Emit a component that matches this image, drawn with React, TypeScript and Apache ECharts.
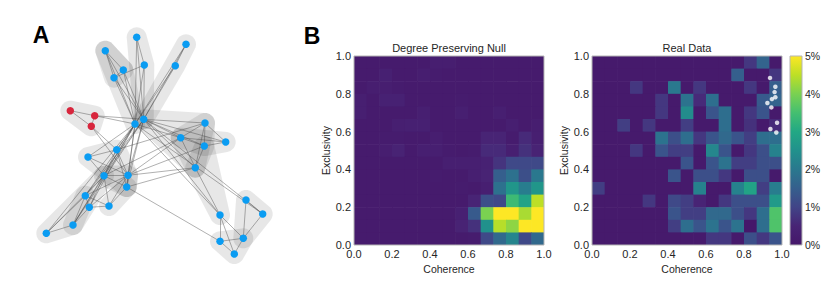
import React, { useEffect, useRef } from 'react';
import * as echarts from 'echarts';

// ---------- Panel A: network ----------
// node coordinates (panel pixel space), node 1..33 stored at index 0..32
const NODE_X = [136.7, 186, 105.3, 144.3, 175.3, 123.3, 114, 70.3, 94.7, 91.3, 143.7, 135, 205, 180.7, 204.3, 225.7, 116.7, 88, 195.3, 104, 128, 126.7, 85.3, 89.3, 109, 246, 262.7, 220, 73, 46.3, 220, 243.3, 234.3];
const NODE_Y = [37.3, 44.3, 50.7, 65, 65.7, 70, 77.7, 110.7, 115.7, 126.3, 119.3, 124, 123, 137.7, 146, 142, 149.7, 157, 167.7, 175.7, 175.3, 187, 195.7, 207.3, 206, 200, 214, 215, 225, 233.3, 241.3, 238.3, 254];
const NODE_GROUP = [0, 0, 0, 0, 0, 0, 0, 1, 1, 1, 0, 0, 0, 0, 0, 0, 0, 0, 0, 0, 0, 0, 0, 0, 0, 0, 0, 0, 0, 0, 0, 0, 0];
// edges (1-based node numbers)
const EDGES: [number, number][] = [
  [1, 4], [1, 11], [1, 12], [4, 11], [4, 12], [4, 7],
  [2, 5], [2, 11], [2, 12], [5, 11], [5, 12],
  [3, 6], [3, 7], [3, 11], [3, 12], [6, 7], [6, 11], [6, 12], [7, 11], [7, 12],
  [8, 9], [8, 10], [9, 10], [9, 11], [9, 12], [10, 17], [10, 21],
  [12, 17], [12, 18], [12, 20], [12, 21], [12, 22], [12, 23], [12, 24], [12, 29], [12, 30],
  [11, 20], [11, 21], [11, 23], [11, 29], [11, 22],
  [11, 13], [11, 14], [11, 15], [11, 16], [11, 19], [11, 28], [11, 27], [12, 27], [12, 28], [12, 14],
  [21, 14], [21, 19], [21, 15], [20, 14], [22, 19], [17, 13], [22, 31],
  [13, 14], [13, 15], [14, 15], [14, 19], [15, 19], [15, 16], [13, 16], [14, 16], [13, 19],
  [19, 28], [28, 31], [28, 33], [28, 32], [31, 32], [31, 33], [32, 33], [26, 27], [26, 32], [27, 32],
  [17, 18], [17, 20], [17, 21], [17, 22], [18, 20], [18, 21], [20, 21], [20, 22], [21, 22],
  [20, 25], [21, 25], [22, 25], [20, 23], [20, 24], [21, 23], [21, 24], [23, 24], [23, 25], [24, 25],
  [23, 29], [24, 29], [23, 30], [29, 30], [20, 29], [20, 30]
];
// community hulls (1-based node numbers)
const HULLS: number[][] = [
  [3, 6, 7], [3, 6, 12], [1, 4, 11], [2, 5, 11], [8, 9, 10],
  [11, 13, 19], [13, 14, 15, 19], [14, 15, 16], [15, 19, 28],
  [26, 27, 32], [31, 32, 33],
  [17, 18, 21, 22], [20, 21, 22], [22, 25], [20, 23, 29, 30], [23, 29]
];

// ---------- Panel B: heatmaps (rows top -> bottom, values in %) ----------
const BINS = 15;
const NULL_VALUES: number[][] = [
  [0.15, 0.15, 0.15, 0.15, 0.15, 0.15, 0.25, 0.25, 0.15, 0.15, 0.15, 0.15, 0.15, 0.15, 0.15],
  [0.15, 0.15, 0.35, 0.15, 0.15, 0.25, 0.2, 0.15, 0.15, 0.15, 0.15, 0.15, 0.15, 0.15, 0.15],
  [0.15, 0.25, 0.25, 0.2, 0.15, 0.15, 0.15, 0.15, 0.15, 0.15, 0.15, 0.15, 0.15, 0.15, 0.15],
  [0.3, 0.15, 0.4, 0.4, 0.15, 0.15, 0.15, 0.15, 0.2, 0.15, 0.15, 0.15, 0.15, 0.15, 0.15],
  [0.3, 0.15, 0.15, 0.15, 0.15, 0.3, 0.15, 0.15, 0.3, 0.15, 0.15, 0.3, 0.15, 0.15, 0.15],
  [0.15, 0.15, 0.15, 0.3, 0.35, 0.35, 0.15, 0.15, 0.15, 0.15, 0.15, 0.15, 0.3, 0.15, 0.25],
  [0.15, 0.15, 0.2, 0.2, 0.15, 0.15, 0.25, 0.15, 0.15, 0.15, 0.5, 0.5, 0.2, 0.6, 0.3],
  [0.15, 0.15, 0.25, 0.45, 0.15, 0.3, 0.3, 0.2, 0.15, 0.2, 0.6, 0.6, 0.3, 0.7, 0.45],
  [0.15, 0.15, 0.15, 0.15, 0.15, 0.15, 0.15, 0.3, 0.3, 0.3, 0.4, 0.75, 1.1, 1.1, 1.1],
  [0.15, 0.15, 0.15, 0.15, 0.15, 0.15, 0.2, 0.15, 0.15, 0.3, 0.45, 1.5, 1.85, 1.2, 2.0],
  [0.15, 0.15, 0.15, 0.15, 0.15, 0.15, 0.15, 0.15, 0.2, 0.15, 0.3, 1.85, 2.6, 2.1, 2.6],
  [0.15, 0.15, 0.15, 0.15, 0.15, 0.15, 0.15, 0.15, 0.15, 0.5, 1.2, 1.1, 3.4, 2.9, 4.5],
  [0.15, 0.15, 0.15, 0.15, 0.15, 0.15, 0.15, 0.15, 0.35, 1.4, 4.0, 5.0, 5.0, 4.35, 5.0],
  [0.15, 0.15, 0.15, 0.15, 0.15, 0.15, 0.15, 0.15, 0.45, 0.7, 2.5, 4.45, 4.15, 5.0, 5.0],
  [0.15, 0.15, 0.15, 0.15, 0.15, 0.15, 0.15, 0.15, 0.15, 0.2, 1.1, 1.7, 2.25, 1.1, 1.7]
];
const REAL_VALUES: number[][] = [
  [0.1, 0.1, 0.1, 0.1, 0.1, 0.1, 0.1, 0.1, 0.1, 0.1, 0.1, 0.1, 0.8, 1.6, 0.1],
  [0.1, 0.1, 0.1, 0.1, 0.1, 0.1, 0.1, 0.1, 0.1, 0.1, 0.1, 1.5, 0.1, 0.1, 0.8],
  [0.1, 0.1, 0.1, 0.8, 0.1, 0.1, 2.0, 0.1, 0.8, 0.1, 0.1, 0.1, 0.8, 0.1, 1.5],
  [0.1, 0.1, 0.1, 0.1, 0.1, 0.8, 0.1, 1.9, 0.6, 1.8, 0.1, 0.1, 0.1, 1.4, 1.6],
  [0.1, 0.1, 0.1, 0.1, 0.1, 0.8, 0.1, 2.4, 0.1, 1.3, 1.8, 0.1, 0.8, 1.3, 0.1],
  [0.1, 0.1, 0.9, 0.1, 0.8, 0.1, 0.1, 0.9, 0.1, 0.1, 1.8, 0.1, 0.7, 0.1, 0.6],
  [0.1, 0.1, 0.1, 0.1, 0.1, 1.9, 1.2, 1.8, 0.8, 1.3, 1.7, 1.3, 0.9, 1.8, 1.8],
  [0.1, 0.1, 0.1, 0.8, 0.1, 1.3, 0.9, 0.9, 0.1, 2.3, 1.3, 0.1, 0.8, 1.2, 2.2],
  [0.1, 0.1, 0.1, 0.1, 0.1, 0.1, 0.1, 1.3, 0.1, 1.3, 1.9, 0.9, 0.9, 1.2, 1.2],
  [0.1, 0.1, 0.1, 0.1, 0.1, 0.1, 1.3, 0.1, 1.2, 1.2, 0.8, 0.1, 1.2, 1.2, 0.1],
  [0.9, 0.1, 0.1, 0.1, 0.1, 0.1, 0.1, 0.1, 2.2, 0.1, 0.1, 2.2, 2.9, 0.9, 2.1],
  [0.1, 0.1, 0.1, 0.1, 0.8, 0.1, 1.1, 0.9, 0.5, 0.1, 0.8, 1.2, 1.2, 1.2, 2.7],
  [0.1, 0.1, 0.1, 0.1, 0.1, 0.1, 1.3, 0.9, 0.9, 1.7, 1.7, 1.2, 0.8, 1.8, 3.6],
  [0.1, 0.1, 0.1, 0.1, 0.1, 0.1, 0.9, 1.8, 1.3, 1.9, 1.3, 1.9, 0.0, 1.8, 3.6],
  [0.1, 0.1, 0.1, 0.1, 0.1, 0.1, 0.1, 0.1, 0.1, 0.8, 0.8, 0.1, 1.2, 0.8, 1.3]
];
const DOT_X = [0.937, 0.965, 0.961, 0.965, 0.947, 0.923, 0.944, 0.974, 0.939, 0.970];
const DOT_Y = [0.884, 0.837, 0.809, 0.782, 0.772, 0.751, 0.728, 0.647, 0.614, 0.595];
const CBAR_MAX = 5;
const VIRIDIS = ['#45176a', '#482475', '#414487', '#355f8d', '#2a788e', '#21918c', '#22a884', '#44bf70', '#7ad151', '#bddf26', '#fde725'];

const FONT = '"Liberation Sans", Arial, sans-serif';
const TXT = '#262626';

function convexHull(pts: number[][]) {
  const p = pts.slice().sort((a, b) => a[0] - b[0] || a[1] - b[1]);
  const cross = (o: number[], a: number[], b: number[]) => (a[0] - o[0]) * (b[1] - o[1]) - (a[1] - o[1]) * (b[0] - o[0]);
  const lower: number[][] = [];
  for (const q of p) {
    while (lower.length >= 2 && cross(lower[lower.length - 2], lower[lower.length - 1], q) <= 0) lower.pop();
    lower.push(q);
  }
  const upper: number[][] = [];
  for (let i = p.length - 1; i >= 0; i--) {
    const q = p[i];
    while (upper.length >= 2 && cross(upper[upper.length - 2], upper[upper.length - 1], q) <= 0) upper.pop();
    upper.push(q);
  }
  upper.pop();
  lower.pop();
  return lower.concat(upper);
}

function gridData(values: number[][]) {
  const out: number[][] = [];
  values.forEach((row, r) => {
    row.forEach((v, c) => {
      out.push([c / BINS, (BINS - 1 - r) / BINS, v]);
    });
  });
  return out;
}

const cellRender = (params: any, api: any) => {
  const step = 1 / BINS;
  const x0 = api.value(0);
  const y0 = api.value(1);
  const p0 = api.coord([x0, y0 + step]);
  const p1 = api.coord([x0 + step, y0]);
  const lastCol = x0 + step > 0.999;
  const lastRow = y0 < 0.001;
  return {
    type: 'rect',
    shape: {
      x: p0[0], y: p0[1],
      width: p1[0] - p0[0] + (lastCol ? 0 : 0.6),
      height: p1[1] - p0[1] + (lastRow ? 0 : 0.6)
    },
    style: { fill: api.visual('color') }
  };
};

const tickFmt = (v: number) => v.toFixed(1);

function heatAxes(gridIndex: number, title: string) {
  const x = [
    {
      type: 'value', gridIndex, min: 0, max: 1, interval: 0.2, position: 'bottom',
      name: 'Coherence', nameLocation: 'middle', nameGap: 17,
      nameTextStyle: { fontSize: 10.5, color: TXT, fontFamily: FONT },
      axisLine: { show: false }, axisTick: { show: false }, splitLine: { show: false },
      axisLabel: { formatter: tickFmt, fontSize: 11, color: TXT, margin: 3, fontFamily: FONT }
    },
    {
      type: 'value', gridIndex, min: 0, max: 1, position: 'top',
      name: title, nameLocation: 'middle', nameGap: 3,
      nameTextStyle: { fontSize: 11, color: TXT, fontFamily: FONT },
      axisLine: { show: false }, axisTick: { show: false }, splitLine: { show: false }, axisLabel: { show: false }
    }
  ];
  const y = [
    {
      type: 'value', gridIndex, min: 0, max: 1, interval: 0.2, position: 'left',
      name: 'Exclusivity', nameLocation: 'middle', nameGap: 21, nameRotate: 90,
      nameTextStyle: { fontSize: 10.5, color: TXT, fontFamily: FONT },
      axisLine: { show: false }, axisTick: { show: false }, splitLine: { show: false },
      axisLabel: { formatter: tickFmt, fontSize: 11, color: TXT, margin: 3, fontFamily: FONT }
    }
  ];
  return { x, y };
}

export default function App() {
  const ref = useRef<HTMLDivElement>(null);
  useEffect(() => {
    if (!ref.current) return;
    const chart = echarts.init(ref.current, undefined, { renderer: 'svg' });

    const h1 = heatAxes(1, 'Degree Preserving Null');
    const h2 = heatAxes(2, 'Real Data');

    const nodes = NODE_X.map((x, i) => ({
      value: [x, NODE_Y[i]],
      itemStyle: { color: NODE_GROUP[i] === 1 ? '#d8263d' : '#0a9cf2' }
    }));
    const links = EDGES.map(([a, b]) => ({ source: a - 1, target: b - 1 }));
    const R = 10;

    const option: any = {
      animation: false,
      textStyle: { fontFamily: FONT },
      grid: [
        { left: 0, top: 0, width: 300, height: 297, show: false },
        { left: 354, top: 56, width: 190, height: 189, show: true, z: 10, borderColor: '#b5b5b5', borderWidth: 1, backgroundColor: 'transparent' },
        { left: 592, top: 56, width: 190, height: 189, show: true, z: 10, borderColor: '#b5b5b5', borderWidth: 1, backgroundColor: 'transparent' },
        { left: 790, top: 56, width: 12, height: 189, show: true, z: 10, borderColor: '#b5b5b5', borderWidth: 1, backgroundColor: 'transparent' }
      ],
      xAxis: [
        { type: 'value', gridIndex: 0, min: 0, max: 300, show: false },
        ...h1.x, ...h2.x,
        { type: 'value', gridIndex: 3, min: 0, max: 1, show: false }
      ],
      yAxis: [
        { type: 'value', gridIndex: 0, min: 0, max: 297, inverse: true, show: false },
        ...h1.y, ...h2.y,
        {
          type: 'value', gridIndex: 3, min: 0, max: CBAR_MAX, interval: 1, position: 'right',
          axisLine: { show: false }, axisTick: { show: false }, splitLine: { show: false },
          axisLabel: { formatter: (v: number) => v + '%', fontSize: 10.5, color: TXT, margin: 3, fontFamily: FONT }
        }
      ],
      visualMap: {
        type: 'continuous', show: false, min: 0, max: CBAR_MAX, dimension: 2,
        seriesIndex: [2, 3], inRange: { color: VIRIDIS }
      },
      graphic: [
        { type: 'text', x: 41, y: 35, style: { text: 'A', font: 'bold 23px ' + FONT, fill: '#000', align: 'center', verticalAlign: 'middle' } },
        { type: 'text', x: 312, y: 36, style: { text: 'B', font: 'bold 23px ' + FONT, fill: '#000', align: 'center', verticalAlign: 'middle' } }
      ],
      series: [
        {
          type: 'custom', xAxisIndex: 0, yAxisIndex: 0, z: 1, silent: true,
          data: HULLS.map((h) => [NODE_X[h[0] - 1], NODE_Y[h[0] - 1]]),
          renderItem: (params: any, api: any) => {
            const members = HULLS[params.dataIndex];
            const pts: number[][] = [];
            members.forEach((m) => {
              const c = api.coord([NODE_X[m - 1], NODE_Y[m - 1]]);
              for (let k = 0; k < 40; k++) {
                const a = (k / 40) * Math.PI * 2;
                pts.push([c[0] + R * Math.cos(a), c[1] + R * Math.sin(a)]);
              }
            });
            return { type: 'polygon', shape: { points: convexHull(pts) }, style: { fill: 'rgba(0,0,0,0.095)' } };
          }
        },
        {
          type: 'graph', coordinateSystem: 'cartesian2d', xAxisIndex: 0, yAxisIndex: 0, z: 3,
          symbolSize: 7.5, data: nodes, links,
          lineStyle: { color: '#4a4a4a', width: 0.8, opacity: 0.55, curveness: 0 },
          label: { show: false }, silent: true
        },
        { type: 'custom', xAxisIndex: 1, yAxisIndex: 1, data: gridData(NULL_VALUES), renderItem: cellRender, silent: true },
        { type: 'custom', xAxisIndex: 3, yAxisIndex: 2, data: gridData(REAL_VALUES), renderItem: cellRender, silent: true },
        {
          type: 'scatter', xAxisIndex: 3, yAxisIndex: 2, z: 5, symbolSize: 4.5,
          itemStyle: { color: '#ffffff' }, data: DOT_X.map((x, i) => [x, DOT_Y[i]]), silent: true
        },
        {
          type: 'custom', xAxisIndex: 5, yAxisIndex: 3, data: [[0, CBAR_MAX]], silent: true,
          renderItem: (params: any, api: any) => {
            const p0 = api.coord([0, CBAR_MAX]);
            const p1 = api.coord([1, 0]);
            const stops = VIRIDIS.map((c, i) => ({ offset: i / (VIRIDIS.length - 1), color: c }));
            return {
              type: 'rect',
              shape: { x: p0[0], y: p0[1], width: p1[0] - p0[0], height: p1[1] - p0[1] },
              style: { fill: new echarts.graphic.LinearGradient(0, 1, 0, 0, stops) }
            };
          }
        }
      ]
    };
    chart.setOption(option);
    return () => chart.dispose();
  }, []);
  return <div ref={ref} style={{ position: 'absolute', left: 0, top: 0, width: 830, height: 297 }} />;
}
